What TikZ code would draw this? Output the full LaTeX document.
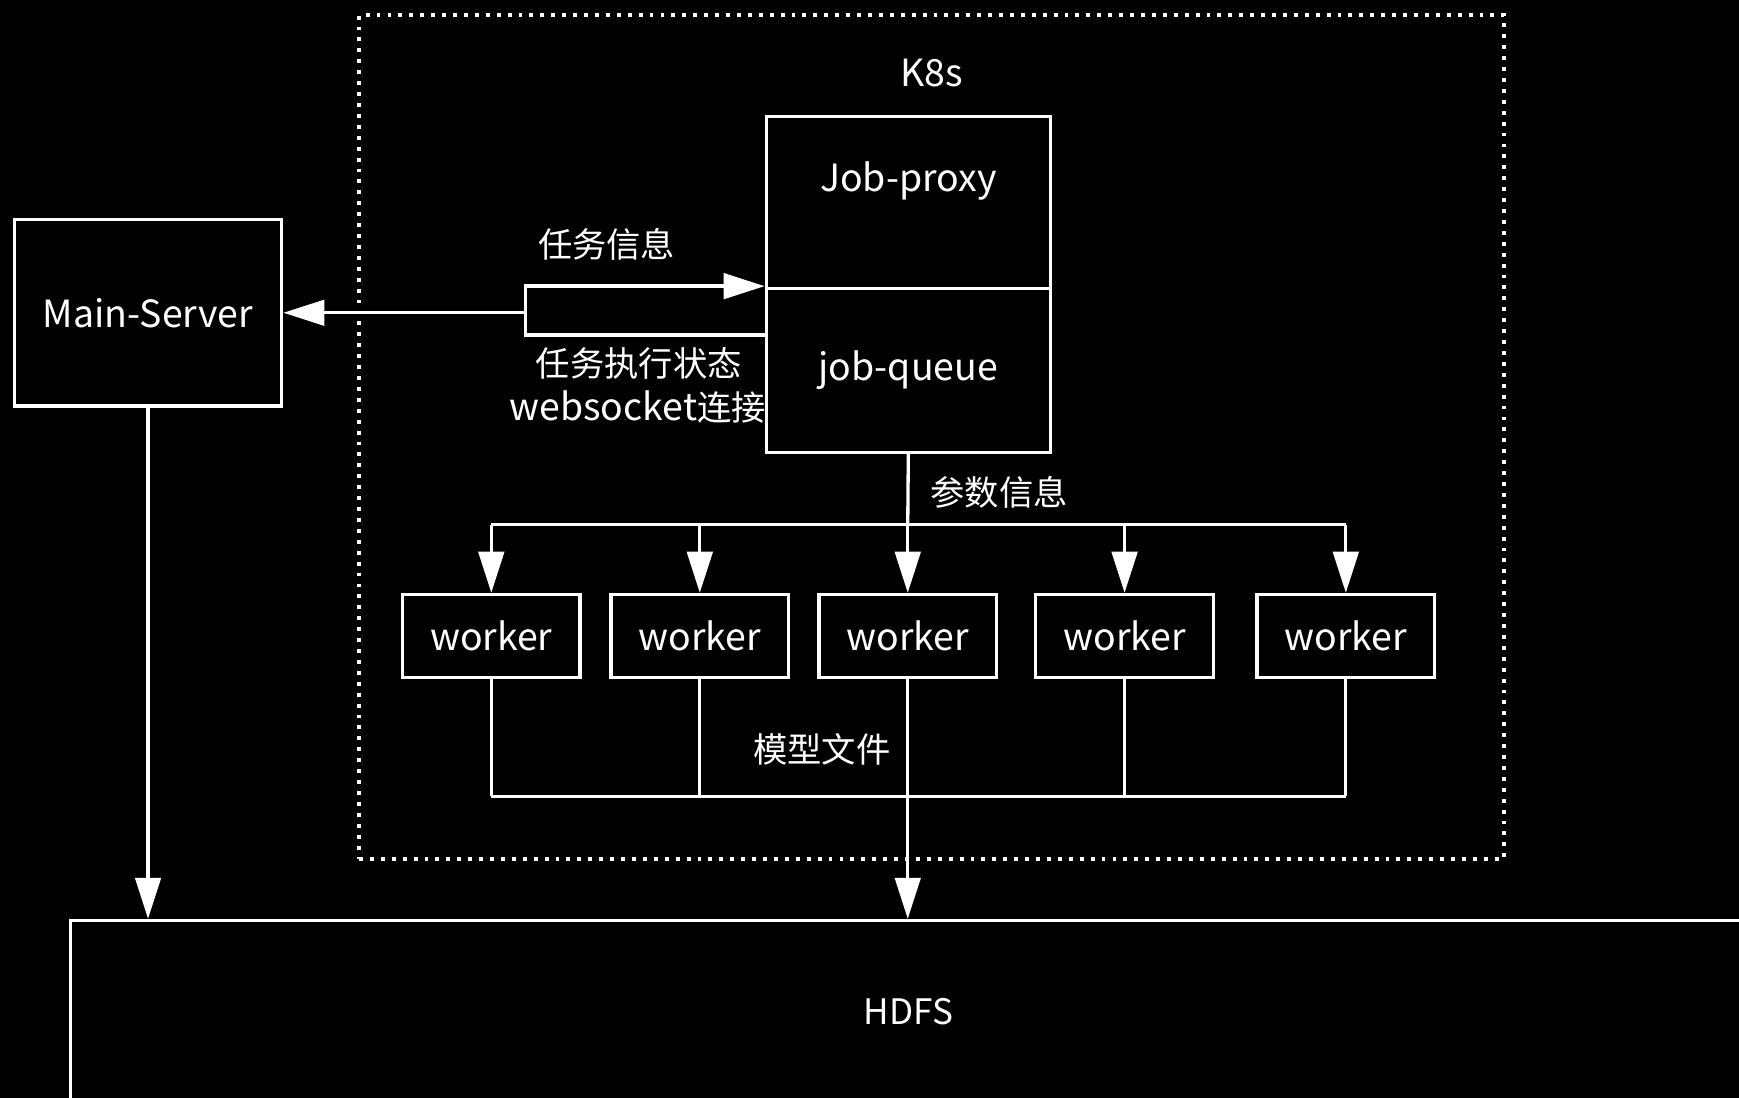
\documentclass[tikz,border=0pt]{standalone}
\usepackage{fontspec}
\setmainfont{Noto Sans CJK SC}
\usetikzlibrary{arrows.meta}

\begin{document}
\begin{tikzpicture}[x=0.01cm,y=-0.01cm,line width=0.85pt,
  box/.style={draw=white,rectangle,text=white,inner sep=0pt,font=\fontsize{9.6}{11}\selectfont},
  lbl/.style={text=white,inner sep=0pt,font=\fontsize{8.8}{11}\selectfont},
  >={Triangle[width=0.23cm,length=0.37cm]}]
\useasboundingbox (0,0) rectangle (1568,990);
\fill[black] (0,0) rectangle (1568,990);

\node[draw=white,line width=1pt,dash pattern=on 1pt off 1.8pt,minimum width=10.32cm,minimum height=7.6cm,
  label={[text=white,anchor=center,yshift=-0.54cm,font=\fontsize{9.6}{11}\selectfont]north:K8s}] (k8s) at (840,394) {};

\node[box,minimum width=2.41cm,minimum height=1.68cm] (ms) at (133.5,282) {Main-Server};
\node[box,minimum width=2.56cm,minimum height=1.55cm,
  label={[text=white,anchor=center,yshift=-0.6cm,font=\fontsize{9.6}{11}\selectfont]north:Job-proxy}] (jp) at (819,182.5) {};
\node[box,minimum width=2.56cm,minimum height=1.48cm] (jq) at (819,334) {job-queue};
\foreach \x [count=\i] in {443,631,818.5,1014,1213.5}
  \node[box,minimum width=1.6cm,minimum height=0.75cm] (w\i) at (\x,573.5) {worker};
\node[box,minimum width=15.1cm,minimum height=1.64cm,font=\fontsize{9}{11}\selectfont] (hdfs) at (819,912) {HDFS};

% Main-Server <-> job-proxy
\coordinate (lt) at (474,258);
\coordinate (lb) at (474,302);
\path[draw,white,->] (lb -| jq.west) -- (lb) -- (lt) -- (lt -| jp.west);
\path[draw,white,->] (lt |- ms.east) -- (ms.east);
\path[draw,white,->] (ms.south) -- (ms.south |- hdfs.north);

% job-queue -> workers
\coordinate (pb) at (818.5,473);
\path[draw,white] (jq.south) -- (pb);
\path[draw,white] (w1.north |- pb) -- (w5.north |- pb);
\foreach \i in {1,...,5}
  \path[draw,white,->] (w\i.north |- pb) -- (w\i.north);

% workers -> HDFS
\coordinate (mb) at (818.5,718);
\foreach \i in {1,2,4,5}
  \path[draw,white] (w\i.south) -- (w\i.south |- mb);
\path[draw,white] (w1.south |- mb) -- (w5.south |- mb);
\path[draw,white,->] (w3.south) -- (w3.south |- hdfs.north);

\node[lbl] (info) at (547,220) {任务信息};
\node[lbl] (state) at (576,328) {任务执行状态};
\node[lbl] (ws) at (575,367) {{\fontsize{9.6}{11}\selectfont websocket}连接};
\node[lbl] (param) at (901,444) {参数信息};
\node[lbl] (model) at (741,676) {模型文件};
\end{tikzpicture}
\end{document}
